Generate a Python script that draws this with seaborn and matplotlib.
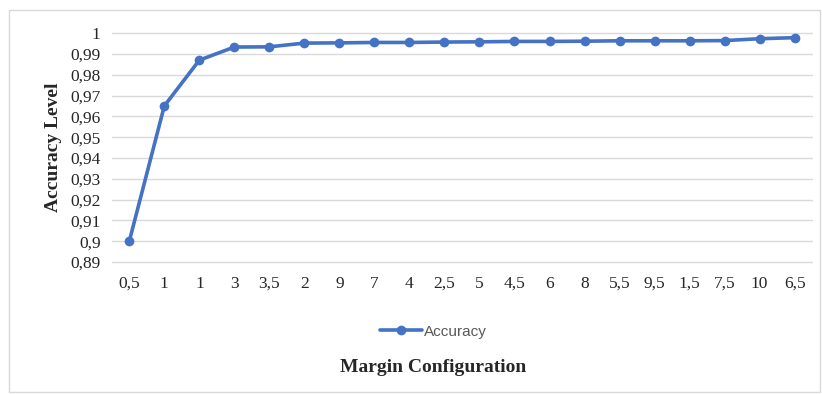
import pandas as pd
import numpy as np
import matplotlib.pyplot as plt
import seaborn as sns
from matplotlib.patches import Rectangle

margins = ['0,5', '1', '1', '3', '3,5', '2', '9', '7', '4', '2,5',
           '5', '4,5', '6', '8', '5,5', '9,5', '1,5', '7,5', '10', '6,5']
accuracy = [0.900, 0.965, 0.987, 0.9933, 0.9934, 0.9952, 0.9953, 0.9955, 0.9955, 0.9957,
            0.9958, 0.9960, 0.9960, 0.9961, 0.9963, 0.9963, 0.9963, 0.9964, 0.9973, 0.9978]
yticks = [0.89, 0.90, 0.91, 0.92, 0.93, 0.94, 0.95, 0.96, 0.97, 0.98, 0.99, 1.00]

df = pd.DataFrame({'pos': range(len(margins)), 'margin': margins, 'Accuracy': accuracy})

sns.set_style('white')
serif = ['Liberation Serif', 'DejaVu Serif']
blue = '#4472C4'

fig = plt.figure(figsize=(8.22, 3.94), dpi=100)
ax = fig.add_axes([0.136, 0.335, 0.852, 0.581])

sns.lineplot(data=df, x='pos', y='Accuracy', ax=ax, color=blue, linewidth=2.6,
             marker='o', markersize=7, markeredgewidth=0, label='Accuracy')

ax.set_xlim(-0.5, len(margins) - 0.5)
ax.set_ylim(0.89, 1.0)
ax.set_xticks(df['pos'])
ax.set_xticklabels(margins, family=serif, fontsize=12.5)
ax.set_yticks(yticks)
ax.set_yticklabels([('%g' % t).replace('.', ',') for t in yticks], family=serif, fontsize=12.5)
ax.tick_params(length=0)
ax.tick_params(axis='y', pad=8)
ax.tick_params(axis='x', pad=10)
ax.yaxis.grid(True, color='#d9d9d9', linewidth=1)
for gl in ax.get_ygridlines():
    gl.set_clip_on(False)
for s in ax.spines.values():
    s.set_visible(False)

ax.set_xlabel('')
ax.set_ylabel('Accuracy Level', family=serif, fontsize=14, fontweight='bold', labelpad=6)
fig.text(0.527, 0.068, 'Margin Configuration', family=serif, fontsize=14,
         fontweight='bold', ha='center', va='center')

leg = ax.legend(loc='center', bbox_to_anchor=(0.527, 0.158), bbox_transform=fig.transFigure,
                frameon=False, handlelength=2.8, handletextpad=0.1,
                prop={'family': 'Liberation Sans', 'size': 11})
for t in leg.get_texts():
    t.set_color('#595959')

fig.patches.append(Rectangle((0.011, 0.005), 0.987, 0.97, transform=fig.transFigure,
                             fill=False, edgecolor='#d9d9d9', linewidth=1))

fig.savefig('out.png', dpi=100, facecolor='white')
